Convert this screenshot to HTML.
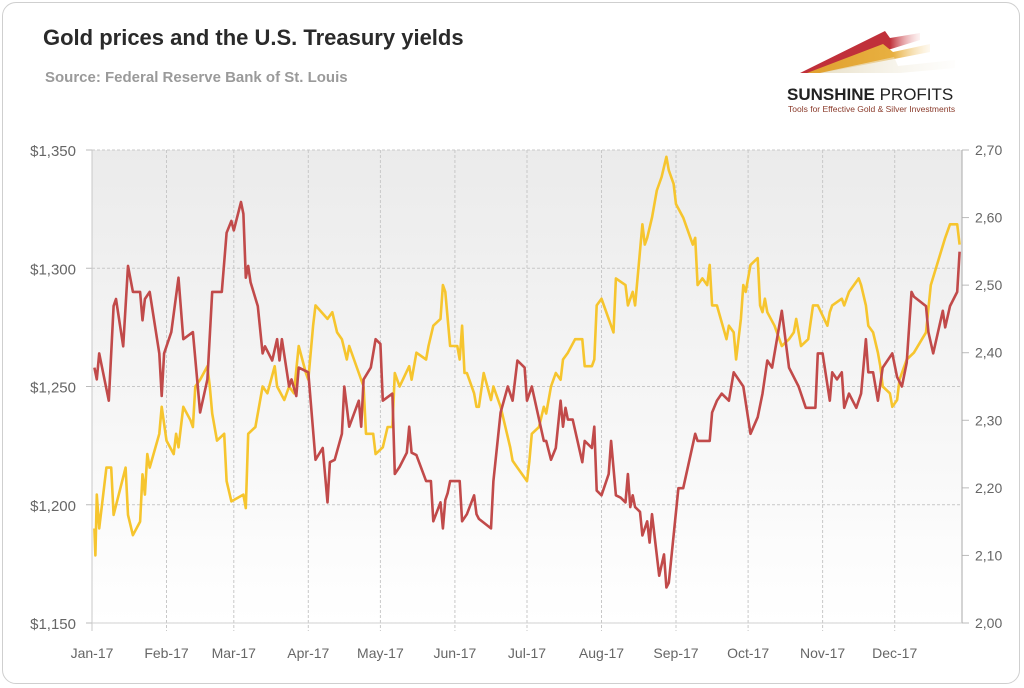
<!DOCTYPE html>
<html><head><meta charset="utf-8">
<style>
html,body{margin:0;padding:0;background:#fff;}
body{width:1024px;height:688px;overflow:hidden;font-family:"Liberation Sans",sans-serif;}
#card{position:absolute;left:2px;top:2px;width:1018px;height:682px;border:1px solid #cfcfcf;border-radius:14px;box-sizing:border-box;}
</style></head>
<body>
<div id="card"></div>
<svg id="chart" width="1024" height="688" style="position:absolute;left:0;top:0">
<defs>
<linearGradient id="bg" x1="0" y1="0" x2="0" y2="1">
<stop offset="0" stop-color="#ebebeb"/><stop offset="1" stop-color="#ffffff"/>
</linearGradient>
<linearGradient id="r1" x1="0" x2="1"><stop offset="0" stop-color="#c0303a"/><stop offset="0.75" stop-color="#c0303a"/><stop offset="1" stop-color="#f3c0c0" stop-opacity="0.2"/></linearGradient>
<linearGradient id="r2" x1="0" x2="1"><stop offset="0" stop-color="#e0a030"/><stop offset="0.7" stop-color="#e8b040"/><stop offset="1" stop-color="#f8e0b0" stop-opacity="0.2"/></linearGradient>
<linearGradient id="r3" x1="0" x2="1"><stop offset="0" stop-color="#e8e0c8"/><stop offset="1" stop-color="#f4f0e4" stop-opacity="0.1"/></linearGradient>
</defs>
<text x="43" y="45" font-size="22" font-weight="bold" fill="#2a2a2a">Gold prices and the U.S. Treasury yields</text>
<text x="45" y="82" font-size="15" font-weight="bold" fill="#9a9a9a">Source: Federal Reserve Bank of St. Louis</text>
<g>
<polygon points="800,73 885,31 890,38 920,33 920,40 814,73" fill="url(#r1)"/>
<polygon points="807,73 883,44 893,52 930,44 930,52 822,73" fill="url(#r2)"/>
<polygon points="820,73 894,57 898,66 955,60 955,68 900,73" fill="url(#r3)"/>
<text x="787" y="100" font-size="17" font-weight="bold" fill="#222">SUNSHINE <tspan font-weight="normal">PROFITS</tspan></text>
<text x="788" y="112" font-size="8.5" fill="#8a3a2a">Tools for Effective Gold &amp; Silver Investments</text>
</g>
<rect x="92" y="150" width="870" height="473" fill="url(#bg)"/>
<g id="grid"></g>
<g id="axes"></g>
<g id="series"></g>
</svg>
<script>
const monthLabels=["Jan-17","Feb-17","Mar-17","Apr-17","May-17","Jun-17","Jul-17","Aug-17","Sep-17","Oct-17","Nov-17","Dec-17"];
const monthDays=[1,32,60,91,121,152,182,213,244,274,305,335];
const goldTicks=[1150,1200,1250,1300,1350];
const yieldTicks=[2.00,2.10,2.20,2.30,2.40,2.50,2.60,2.70];
const goldDays=[2,3,4,8,10,11,14,16,18,21,22,23,25,29,30,31,34,37,39,43,46,49,51,55,57,59,60,63,64,65,66,67,70,72,73,76,78,79,80,83,84,86,87,91,94,97,99,100,102,105,106,108,112,113,114,117,119,121,122,126,127,129,132,133,134,136,140,142,143,146,147,148,149,150,154,155,157,160,161,162,167,168,171,174,176,178,181,182,184,189,190,192,194,196,197,198,199,201,203,205,206,209,210,211,213,216,217,219,221,223,224,225,226,227,229,230,232,233,234,237,239,240,241,245,247,252,253,258,259,261,263,266,268,272,275,278,280,282,284,288,291,295,298,302,303,305,308,309,311,313,314,316,319,321,323,324,326,328,330,334,336,338,340,342,343,348,349,351,355,356,358,361,362];
const goldValues=[1258,1253,1264,1244,1284,1287,1267,1301,1290,1290,1278,1287,1290,1264,1246,1264,1273,1296,1270,1273,1239,1253,1290,1290,1315,1320,1316,1328,1323,1296,1301,1294,1284,1264,1267,1261,1270,1261,1270,1250,1253,1246,1258,1256,1219,1224,1201,1218,1219,1230,1250,1233,1244,1233,1253,1258,1270,1268,1244,1247,1213,1216,1222,1233,1222,1221,1210,1210,1193,1201,1190,1202,1205,1210,1210,1193,1196,1204,1196,1194,1190,1210,1239,1250,1244,1261,1258,1244,1250,1227,1227,1219,1224,1244,1233,1241,1236,1236,1227,1218,1227,1224,1233,1206,1204,1213,1227,1204,1203,1201,1213,1199,1204,1199,1197,1187,1193,1184,1196,1170,1179,1165,1167,1207,1207,1230,1227,1227,1239,1244,1247,1244,1256,1250,1230,1237,1247,1261,1258,1282,1258,1250,1241,1241,1264,1264,1244,1256,1253,1256,1241,1247,1241,1247,1270,1256,1256,1244,1258,1264,1254,1250,1260,1290,1288,1284,1273,1264,1282,1275,1284,1290,1307];
const yieldDays=[2,2.4,3,4,7,9,10,15,16,18,21,22,23,24,25,29,30,32,35,36,37,39,42,43,44,46,49,50,51,53,56,57,59,64,65,66,69,72,74,77,78,81,83,85,87,90,91,93,94,99,101,103,105,107,108,112,114,115,118,119,122,124,126,127,129,133,134,136,140,141,143,146,147,148,150,153,154,155,156,157,160,161,162,164,167,168,171,175,176,178,182,183,184,187,189,190,192,194,196,197,199,202,203,205,206,209,210,211,213,215,218,219,223,224,226,227,230,231,232,234,236,238,240,241,243,244,247,251,252,253,255,257,258,259,261,265,266,268,269,271,272,273,275,278,279,280,281,282,285,288,291,293,294,296,299,301,303,307,308,309,313,314,316,320,321,323,324,326,328,329,330,333,334,336,337,340,343,348,350,356,358,361,362];
const yieldValues=[2.14,2.10,2.19,2.14,2.23,2.23,2.16,2.23,2.16,2.13,2.15,2.22,2.19,2.25,2.23,2.28,2.32,2.27,2.25,2.28,2.26,2.32,2.30,2.29,2.35,2.36,2.38,2.35,2.31,2.27,2.28,2.21,2.18,2.19,2.17,2.28,2.29,2.35,2.34,2.38,2.35,2.33,2.35,2.34,2.41,2.37,2.36,2.44,2.47,2.45,2.46,2.43,2.42,2.39,2.41,2.37,2.35,2.28,2.28,2.25,2.26,2.29,2.29,2.37,2.35,2.38,2.36,2.40,2.39,2.41,2.44,2.45,2.50,2.49,2.41,2.41,2.39,2.44,2.37,2.37,2.34,2.32,2.32,2.37,2.33,2.35,2.32,2.26,2.24,2.23,2.21,2.24,2.28,2.29,2.32,2.31,2.35,2.37,2.36,2.39,2.40,2.42,2.42,2.42,2.38,2.38,2.39,2.47,2.48,2.46,2.43,2.51,2.50,2.47,2.49,2.47,2.59,2.56,2.57,2.60,2.64,2.66,2.69,2.67,2.65,2.62,2.60,2.56,2.57,2.50,2.51,2.50,2.53,2.47,2.47,2.42,2.44,2.43,2.39,2.45,2.50,2.49,2.53,2.54,2.47,2.46,2.48,2.46,2.44,2.41,2.42,2.43,2.45,2.41,2.42,2.47,2.47,2.44,2.46,2.47,2.48,2.47,2.49,2.51,2.50,2.47,2.44,2.43,2.40,2.38,2.35,2.34,2.32,2.33,2.36,2.39,2.40,2.43,2.50,2.57,2.59,2.59,2.56];

const NS="http://www.w3.org/2000/svg";
const L=92,R=962,T=150,B=623;
const xs=d=>L+(d-1)*(R-L)/362;
const yG=v=>B-(v-1150)/(1350-1150)*(B-T);
const yY=v=>B-(v-2.0)/(2.7-2.0)*(B-T);
function mk(tag,attrs,parent,txt){const e=document.createElementNS(NS,tag);for(const k in attrs)e.setAttribute(k,attrs[k]);if(txt!==undefined)e.textContent=txt;parent.appendChild(e);return e;}
const grid=document.getElementById('grid'),axes=document.getElementById('axes'),series=document.getElementById('series');
goldTicks.forEach(v=>{
  const y=yG(v);
  if(v!==1150){const g=mk('line',{x1:L,x2:R,y1:y,y2:y,stroke:'#c8c8c8','stroke-dasharray':'3,2','stroke-width':1},grid);
  
  }
  const tk=mk('line',{x1:L-6,x2:L,y1:y,y2:y,stroke:'#bbb'},axes);
  
  
  const t=mk('text',{x:76,y:y+6,'text-anchor':'end','font-size':15,fill:'#666'},axes,'$'+v.toLocaleString('en-US'));
  
  
});
yieldTicks.forEach(v=>{
  const y=yY(v);
  const tk=mk('line',{x1:R,x2:R+7,y1:y,y2:y,stroke:'#bbb'},axes);
  
  
  const t=mk('text',{x:975,y:y+5,'font-size':14,fill:'#666'},axes,v.toFixed(2).replace('.',','));
  
  
});
monthDays.forEach((d,i)=>{
  const x=xs(d);
  if(i>0){const g=mk('line',{x1:x,x2:x,y1:T,y2:B+8,stroke:'#c8c8c8','stroke-dasharray':'3,2'},grid);
  
  }
  const t=mk('text',{x:x,y:658,'text-anchor':'middle','font-size':14,fill:'#666'},axes,monthLabels[i]);
  
  
});
const la=mk('line',{x1:L,x2:L,y1:T,y2:B+8,stroke:'#c8c8c8'},axes);


const ra=mk('line',{x1:R,x2:R,y1:T,y2:B,stroke:'#aaa'},axes);


const ba=mk('line',{x1:L,x2:R,y1:B,y2:B,stroke:'#d0d0d0'},axes);


const yp=yieldDays.map((d,i)=>xs(d).toFixed(1)+','+yY(yieldValues[i]).toFixed(1)).join(' ');
const yl=mk('polyline',{points:yp,fill:'none',stroke:'#f6c52e','stroke-width':2.6,'stroke-linejoin':'round'},series);


const gp=goldDays.map((d,i)=>xs(d).toFixed(1)+','+yG(goldValues[i]).toFixed(1)).join(' ');
const gl=mk('polyline',{points:gp,fill:'none',stroke:'#c14a4a','stroke-width':2.6,'stroke-linejoin':'round'},series);


</script>
</body></html>
